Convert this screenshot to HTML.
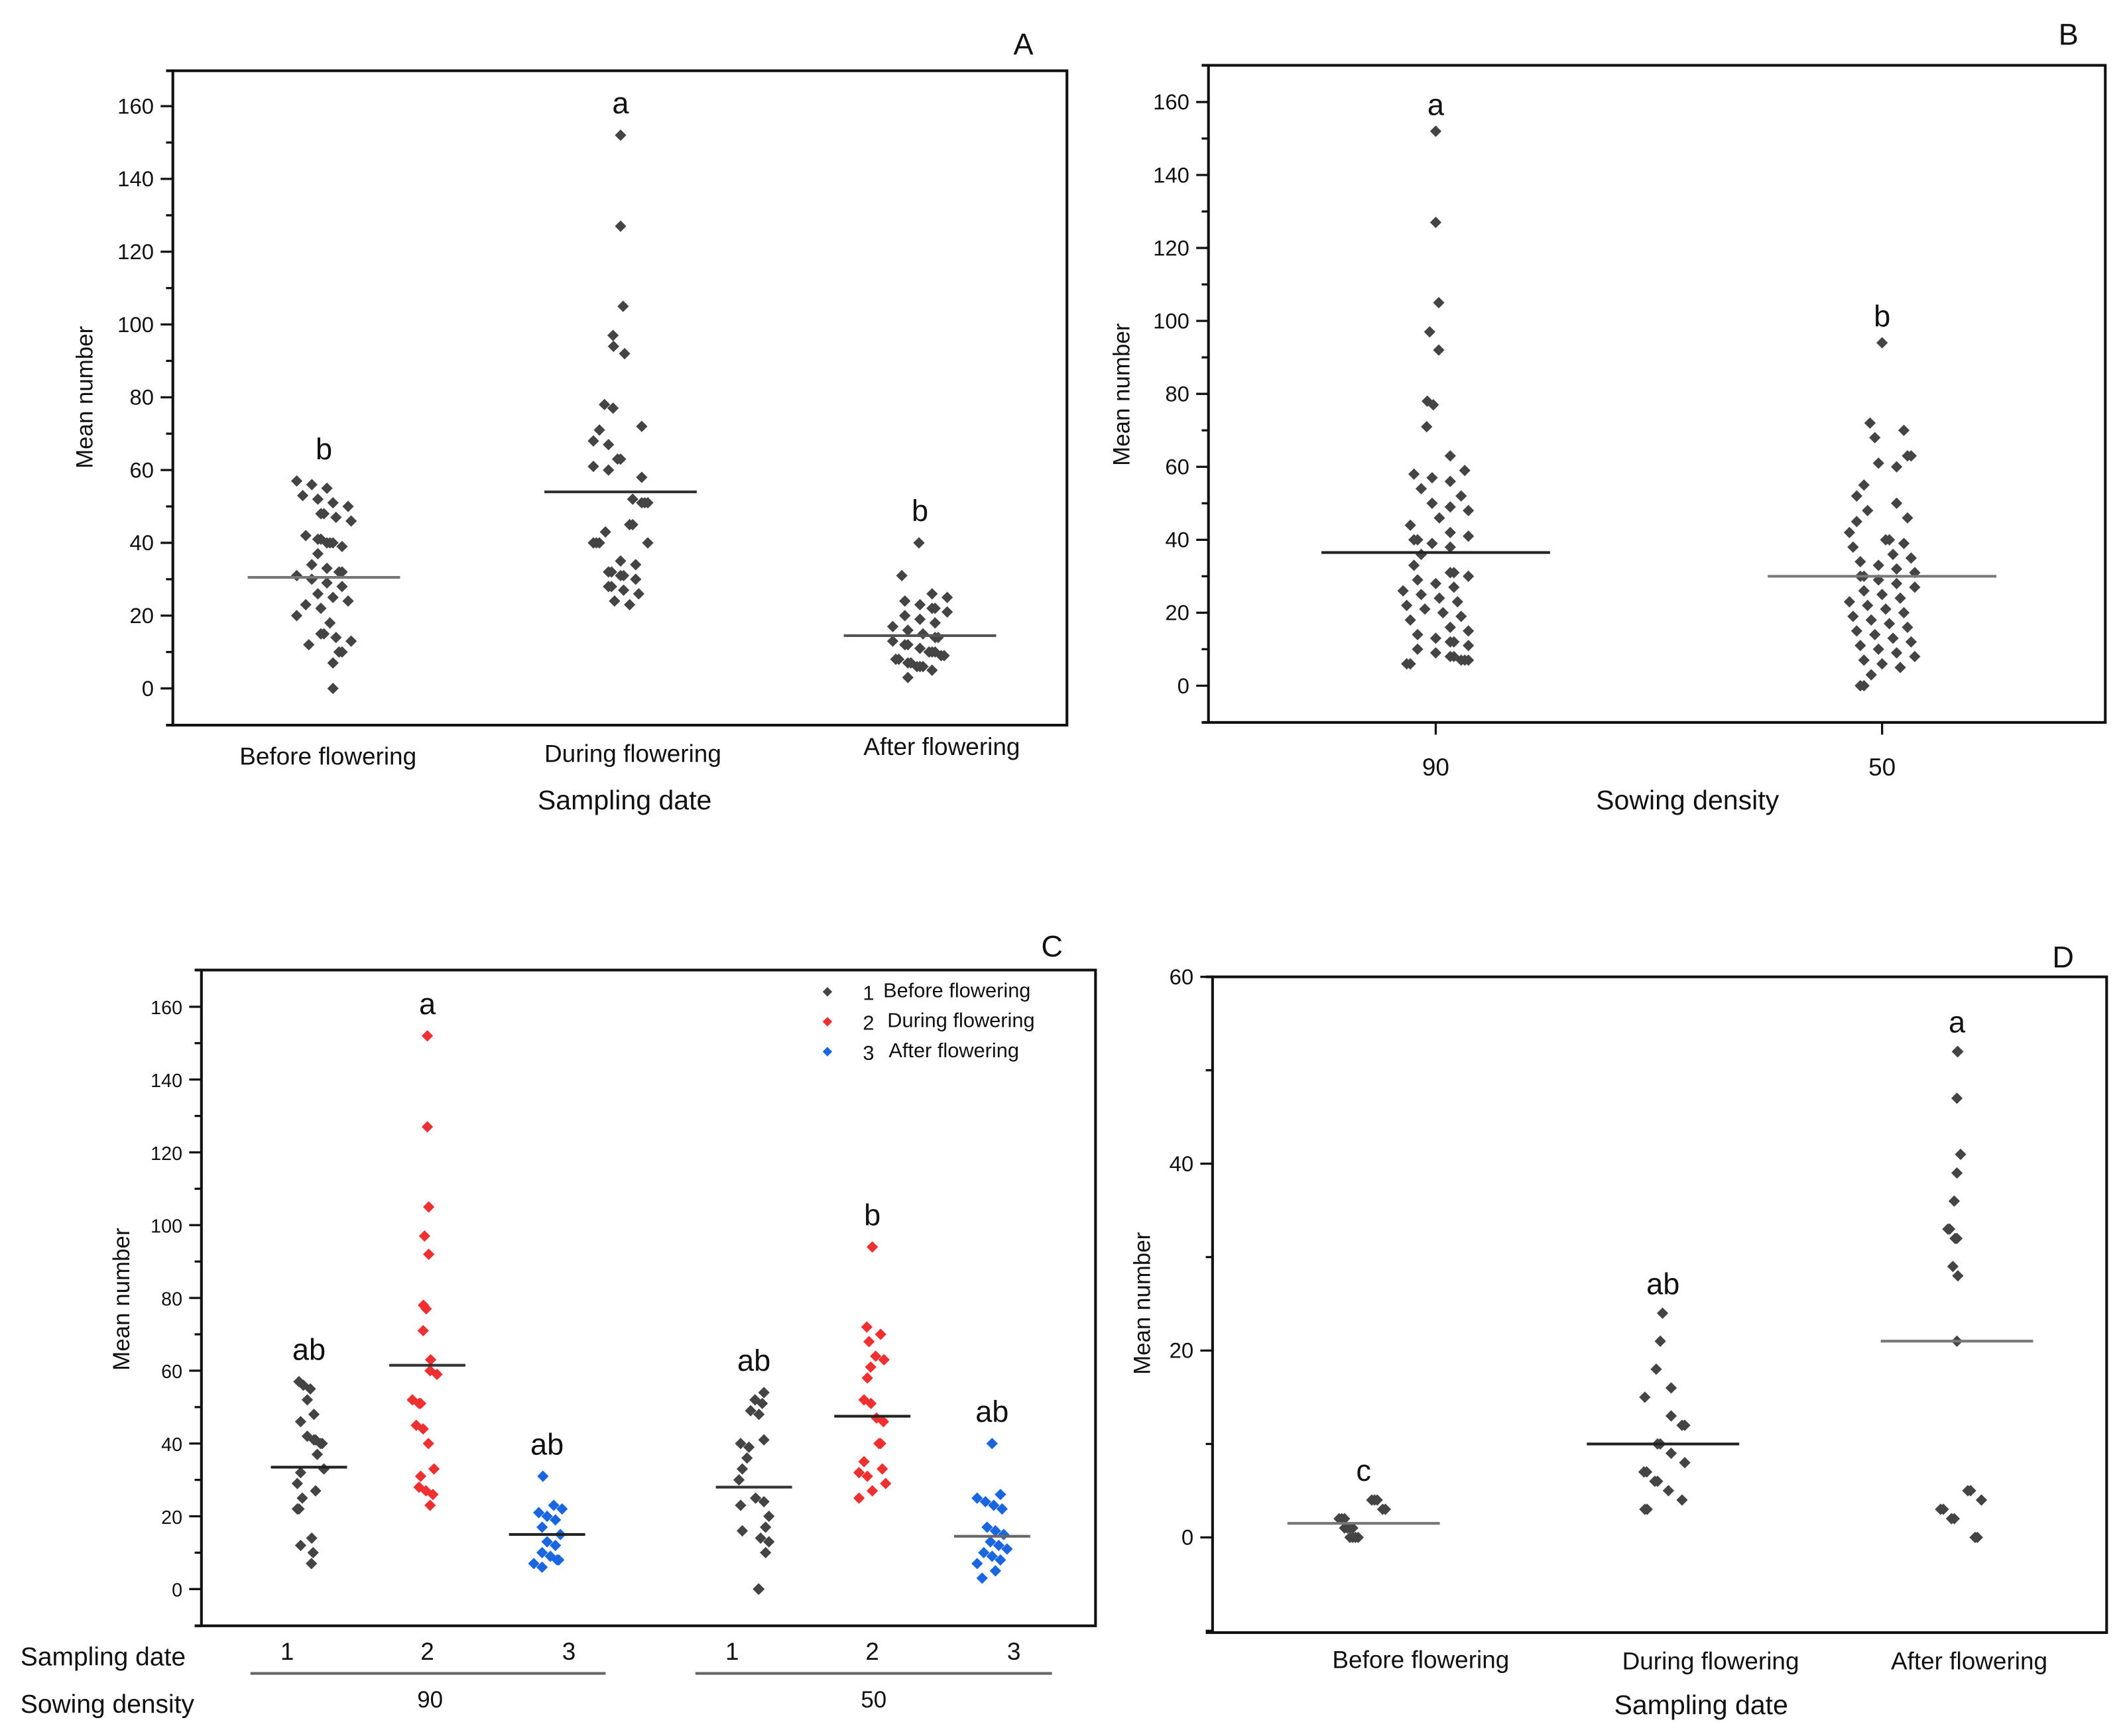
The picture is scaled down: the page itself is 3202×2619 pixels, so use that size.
<!DOCTYPE html>
<html><head><meta charset="utf-8">
<style>
html,body{margin:0;padding:0;background:#fff;}
svg{display:block;font-family:"Liberation Sans",Arial,sans-serif;}
</style></head>
<body>
<svg id="fig" width="3202" height="2619" viewBox="0 0 1560 1276" xmlns="http://www.w3.org/2000/svg"></svg>
<script>
// ---------- Panel A data ----------
const aCategories = ["Before flowering","During flowering","After flowering"];
const aBefore = [57,56,55,53,52,51,50,48,48,47,46,42,41,41,40,40,40,39,37,34,33,32,32,31,30,29,28,26,25,24,23,22,20,18,15,15,14,13,12,10,10,7,0];
const aDuring = [152,127,105,97,94,92,78,77,72,71,68,67,63,63,61,60,58,52,51,51,51,45,45,43,40,40,40,40,35,34,32,32,31,31,30,28,28,27,26,24,23];
const aAfter = [40,31,26,25,24,23,22,22,21,20,19,18,17,16,15,14,14,13,12,12,11,10,10,10,9,9,8,8,7,7,6,6,6,5,3];
const aMeans = [30.5,54,14.5];
const aLetters = ["b","a","b"];
const aYTicks = [0,20,40,60,80,100,120,140,160];
// ---------- Panel B data ----------
const bCategories = ["90","50"];
const b90 = [152,127,105,97,92,78,77,71,63,59,58,57,56,54,52,50,49,48,46,44,42,41,40,40,39,38,36,33,31,31,30,29,28,27,26,25,24,23,22,21,20,19,18,16,15,14,13,12,12,11,10,9,8,8,7,7,7,6,6];
const b50 = [94,72,70,68,63,63,61,60,55,52,50,48,46,45,42,40,40,39,38,36,35,34,33,32,31,30,30,29,28,27,26,25,24,23,22,21,20,19,18,17,16,15,14,13,12,11,10,9,8,7,6,5,3,0,0];
const bMeans = [36.5,30];
const bLetters = ["a","b"];
const bYTicks = [0,20,40,60,80,100,120,140,160];
// ---------- Panel C data ----------
const cCategories = ["1","2","3","1","2","3"];
const cDensity = ["90","50"];
const c90Before = [57,56,55,52,48,46,42,41,41,40,40,37,33,32,29,27,25,22,22,14,12,10,7];
const c90During = [152,127,105,97,92,78,77,71,63,60,59,52,51,51,45,44,40,33,31,28,27,26,23];
const c90After = [31,23,22,21,20,19,17,15,13,12,10,9,8,8,7,6];
const c50Before = [54,52,51,49,48,41,40,39,36,33,30,25,24,23,20,17,16,14,13,10,0,0];
const c50During = [94,72,70,68,64,63,61,58,52,51,47,46,40,40,35,33,32,31,29,27,25];
const c50After = [40,26,25,24,23,22,17,16,15,13,12,11,10,9,8,7,5,3];
const cMeans = [33.5,61.5,15,28,47.5,14.5];
const cLetters = ["ab","a","ab","ab","b","ab"];
const cYTicks = [0,20,40,60,80,100,120,140,160];
// ---------- Panel D data ----------
const dCategories = ["Before flowering","During flowering","After flowering"];
const dBefore = [4,4,4,3,3,2,2,2,1,1,1,1,0,0,0,0];
const dDuring = [24,21,18,16,15,13,12,12,10,10,9,8,7,7,6,6,5,4,3,3];
const dAfter = [52,52,47,41,39,36,33,33,32,32,29,28,21,5,5,4,3,3,2,2,0,0];
const dMeans = [1.5,10,21];
const dLetters = ["c","ab","a"];
const dYTicks = [0,20,40,60];

const NS="http://www.w3.org/2000/svg";
const svg=document.getElementById('fig');
function mk(tag,attrs,parent){const e=document.createElementNS(NS,tag);for(const k in attrs)e.setAttribute(k,attrs[k]);(parent||svg).appendChild(e);return e;}
function txt(s,x,y,size,anchor,parent,extra){const t=mk('text',Object.assign({x:x,y:y,'font-size':size,'text-anchor':anchor||'middle',fill:'#111'},extra||{}),parent);t.textContent=s;return t;}

function panel(o){
  const g=mk('g',{});
  
  
  const y=v=>o.y0+(v-o.vmin)*(o.y1-o.y0)/(o.vmax-o.vmin);
  const box=mk('rect',{x:o.L,y:o.T,width:o.R-o.L,height:o.B-o.T,fill:'none',stroke:'#111','stroke-width':2},g);
  
  mk('line',{x1:o.L-5,y1:o.T,x2:o.L,y2:o.T,stroke:'#111','stroke-width':2},g);
  mk('line',{x1:o.L-5,y1:o.B,x2:o.L,y2:o.B,stroke:'#111','stroke-width':2},g);
  const yax=mk('g',{},g);
  
  o.yticks.forEach((v,i)=>{
    const yy=y(v);
    mk('line',{x1:o.L-9,y1:yy,x2:o.L,y2:yy,stroke:'#111','stroke-width':1.6},yax);
    const t=txt(String(v),o.L-14,yy+5.5,o.tickSize||16,'end',yax);
    
    
    if(i<o.yticks.length-1){const m=(v+o.yticks[i+1])/2;mk('line',{x1:o.L-5,y1:y(m),x2:o.L,y2:y(m),stroke:'#111','stroke-width':1.6},yax);}
  });
  if(o.yminor!==undefined){mk('line',{x1:o.L-5,y1:y(o.yminor),x2:o.L,y2:y(o.yminor),stroke:'#111','stroke-width':1.6},yax);}
  const yt=txt('Mean number',0,0,o.ytitleSize||17,'middle',g,{transform:`translate(${o.ytx},${o.yty}) rotate(-90)`});
  
  const span=(o.vmax-o.vmin)/16;
  o.series.forEach((s,si)=>{
    const sg=mk('g',{},g);
    
    
    s.vals.forEach((v,i)=>{
      let n=0; s.vals.forEach(w=>{if(Math.abs(w-v)<=span)n++;});
      const amp=Math.min(1,(n-1)/6);
      const j=((((i*37+Math.round(v)*13)%19)-9)/9)*(o.jw||20)*amp;
      const cx=o.xs[si]+j, cy=y(v), r=4.2;
      const p=mk('polygon',{points:`${cx},${cy-r} ${cx+r},${cy} ${cx},${cy+r} ${cx-r},${cy}`,fill:s.color},sg);
      
      
    });
    const m=mk('line',{x1:o.xs[si]-o.mw,x2:o.xs[si]+o.mw,y1:y(o.means[si]),y2:y(o.means[si]),stroke:o.meanColors[si],'stroke-width':2},g);
    
    const lt=txt(o.letters[si],o.xs[si],y(s.vals[0])+o.letterOff,o.letterSize||22,'middle',g);
    
  });
  const pl=txt(o.label,o.labX,o.labY,22,'middle',g);
  
  return {g,y};
}

let A=panel({name:'panel-a',L:127,R:784,T:52,B:533,y0:506,y1:78,vmin:0,vmax:160,yticks:aYTicks,
  series:[{vals:aBefore,color:'#444'},{vals:aDuring,color:'#444'},{vals:aAfter,color:'#444'}],
  xs:[238,456,676],means:aMeans,mw:56,meanColors:['#777','#333','#555'],letters:aLetters,letterOff:-16,jw:20,
  ytx:68,yty:292,label:'A',labX:752,labY:40});
[[aCategories[0],241,562],[aCategories[1],465,560],[aCategories[2],692,555]].forEach(c=>{const t=txt(c[0],c[1],c[2],18,'middle',A.g);});
let t=txt('Sampling date',459,595,20,'middle',A.g);

let B=panel({name:'panel-b',L:888,R:1547,T:48,B:531,y0:504,y1:75,vmin:0,vmax:160,yticks:bYTicks,
  series:[{vals:b90,color:'#444'},{vals:b50,color:'#444'}],
  xs:[1055,1383],means:bMeans,mw:84,meanColors:['#222','#777'],letters:bLetters,letterOff:-12,jw:24,
  ytx:830,yty:290,label:'B',labX:1520,labY:33});
[[bCategories[0],1055],[bCategories[1],1383]].forEach(c=>{mk('line',{x1:c[1],x2:c[1],y1:531,y2:540,stroke:'#111','stroke-width':1.6},B.g);const t=txt(c[0],c[1],570,18,'middle',B.g);});
t=txt('Sowing density',1240,595,20,'middle',B.g);

const cColors=['#444','#f03030','#1a66e0'];
let C=panel({name:'panel-c',L:148,R:805,T:713,B:1195,y0:1168,y1:740,vmin:0,vmax:160,yticks:cYTicks,tickSize:14,
  series:[{vals:c90Before,color:cColors[0]},{vals:c90During,color:cColors[1]},{vals:c90After,color:cColors[2]},
          {vals:c50Before,color:cColors[0]},{vals:c50During,color:cColors[1]},{vals:c50After,color:cColors[2]}],
  xs:[227,314,402,554,641,729],means:cMeans,mw:28,meanColors:['#222','#333','#222','#333','#222','#666'],letters:cLetters,letterOff:-16,jw:11,
  ytx:95,yty:955,label:'C',labX:773,labY:703});
t=txt('Sampling date',15,1224,19,'start',C.g);
t=txt('Sowing density',15,1259,19,'start',C.g);
[211,314,418,538,641,745].forEach((x,i)=>{const t=txt(cCategories[i],x,1220,18,'middle',C.g);});
[[184,445,316],[511,773,642]].forEach((d,i)=>{mk('line',{x1:d[0],x2:d[1],y1:1230,y2:1230,stroke:'#666','stroke-width':2},C.g);const t=txt(cDensity[i],d[2],1255,17,'middle',C.g);});
const leg=mk('g',{},C.g);
[['1','Before flowering',729],['2','During flowering',751],['3','After flowering',773]].forEach((r,i)=>{
  const cx=608,cy=r[2],rr=3.5;
  mk('polygon',{points:`${cx},${cy-rr} ${cx+rr},${cy} ${cx},${cy+rr} ${cx-rr},${cy}`,fill:cColors[i]},leg);
  const t=txt(r[0],634,cy+6,15,'start',leg);
  const t2=txt(r[1],649+(i===2?4:(i===1?3:0)),cy+4,15,'start',leg);
});

let D=panel({name:'panel-d',L:891,R:1548,T:718,B:1200,y0:1130,y1:718,vmin:0,vmax:60,yticks:dYTicks,tickSize:16,yminor:-10,
  series:[{vals:dBefore,color:'#444'},{vals:dDuring,color:'#444'},{vals:dAfter,color:'#444'}],
  xs:[1002,1222,1438],means:dMeans,mw:56,meanColors:['#777','#222','#777'],letters:dLetters,letterOff:-14,jw:18,
  ytx:845,yty:958,label:'D',labX:1516,labY:711});
[[dCategories[0],1044,1226],[dCategories[1],1257,1227],[dCategories[2],1447,1227]].forEach(c=>{const t=txt(c[0],c[1],c[2],18,'middle',D.g);});
t=txt('Sampling date',1250,1260,20,'middle',D.g);
</script>
</body></html>
